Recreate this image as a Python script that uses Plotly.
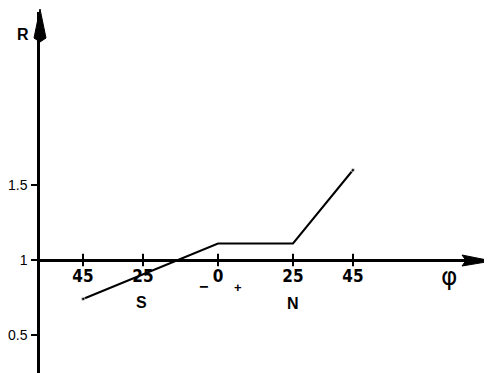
import plotly.graph_objects as go

# ---- data ----
phi = [-45, 0, 25, 45]          # latitude, S negative, N positive
R = [0.74, 1.11, 1.11, 1.60]
phi_ticks = [-45, -25, 0, 25, 45]
phi_labels = ["45", "25", "0", "25", "45"]
r_ticks = [0.5, 1, 1.5]
r_labels = ["0.5", "1", "1.5"]

# page has an 8px body margin; figure sized to fit the 492x373 window
OFF = 8
W, H = 492 - OFF, 373 - OFF
def px(x):
    return (x - OFF) / W
def py(y):
    return 1 - (y - OFF) / H

# geometry in reference-window pixels
X0, X_PER_DEG = 218, 3.0     # phi=0 at x=218
Y1, Y_PER_UNIT = 260, 150.0  # R=1 at y=260
x_left, x_right = 40, 492
y_bottom, y_top = 373, 12

xr = [(x_left - X0) / X_PER_DEG, (x_right - X0) / X_PER_DEG]
yr = [1 - (y_bottom - Y1) / Y_PER_UNIT, 1 + (Y1 - y_top) / Y_PER_UNIT]

narrow = "DejaVu Sans Condensed, Liberation Sans Narrow, sans-serif"
sans = "Liberation Sans, Arial, sans-serif"

fig = go.Figure()
fig.add_trace(go.Scatter(x=phi, y=R, mode="lines+markers",
                         line=dict(color="black", width=2),
                         marker=dict(color="black",
                                     size=[4 if i in (0, len(phi) - 1) else 0
                                           for i in range(len(phi))]),
                         showlegend=False, hoverinfo="skip"))
# crossing ticks on the phi axis
fig.add_trace(go.Scatter(x=phi_ticks, y=[1] * len(phi_ticks), mode="markers",
                         marker=dict(symbol="line-ns", size=9,
                                     line=dict(color="black", width=2)),
                         showlegend=False, hoverinfo="skip"))

def lab(text, x, y, size, family=sans, weight="bold"):
    return dict(text=text, x=px(x), y=py(y), xref="paper", yref="paper",
                xanchor="center", yanchor="middle", showarrow=False,
                font=dict(family=family, size=size, color="black", weight=weight))

fig.update_layout(
    width=W, height=H,
    margin=dict(l=0, r=0, t=0, b=0),
    paper_bgcolor="white", plot_bgcolor="white",
    xaxis=dict(domain=[px(x_left), 1], range=xr, anchor="free",
               position=py(Y1), showline=True, linecolor="black", linewidth=3,
               showgrid=False, zeroline=False, ticks="",
               tickvals=phi_ticks, ticktext=phi_labels,
               tickfont=dict(family=narrow, size=17, color="black", weight="bold"),
               ticklabelstandoff=0),
    yaxis=dict(domain=[0, py(y_top)], range=yr, anchor="x",
               showline=True, linecolor="black", linewidth=2.5,
               showgrid=False, zeroline=False, ticks="outside", ticklen=6,
               tickwidth=1.5, tickcolor="black",
               tickvals=r_ticks, ticktext=r_labels,
               tickfont=dict(family=sans, size=14, color="black"),
               ticklabelstandoff=1),
    shapes=[
        # arrow head on R axis
        dict(type="path", xref="paper", yref="paper",
             path=f"M {px(40)} {py(9)} L {px(46)} {py(38)} L {px(40)} {py(42)} L {px(34)} {py(38)} Z",
             fillcolor="black", line=dict(color="black", width=1)),
        # arrow head on phi axis
        dict(type="path", xref="paper", yref="paper",
             path=f"M {px(492)} {py(261)} L {px(462)} {py(266)} L {px(466)} {py(260.5)} L {px(462)} {py(255)} Z",
             fillcolor="black", line=dict(color="black", width=1)),
    ],
    annotations=[
        lab("R", 23, 34, 16),
        lab("S", 141, 302, 16),
        lab("N", 293, 303, 16),
        lab("−", 203, 286, 16),
        lab("+", 238, 287, 13),
        lab("φ", 449, 276, 25, family="DejaVu Sans", weight="normal"),
    ],
)

fig.write_html("out.html")
